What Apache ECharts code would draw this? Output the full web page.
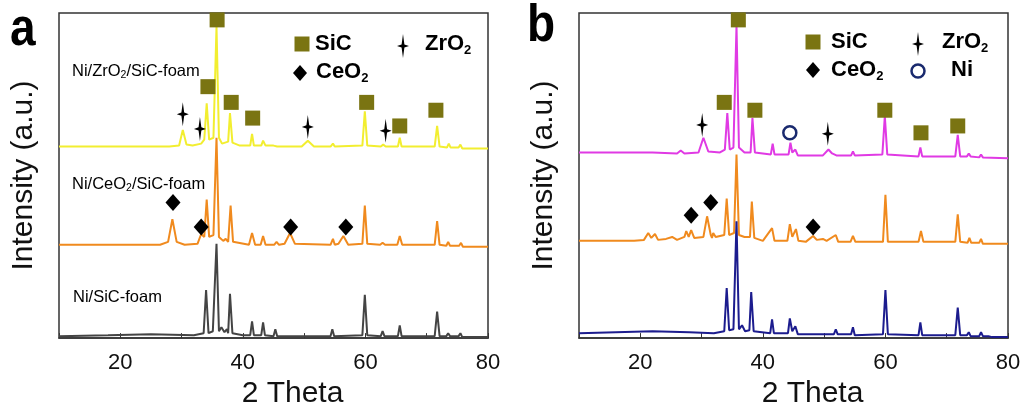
<!DOCTYPE html>
<html>
<head>
<meta charset="utf-8">
<script src="https://cdn.jsdelivr.net/npm/echarts@6/dist/echarts.min.js"></script>
<style>
  html, body { margin: 0; padding: 0; background: #fff; }
  #main { width: 1026px; height: 414px; }
</style>
</head>
<body>
<div id="main"></div>
<script>
// x 轴刻度 (2 Theta)
const xTickLabels = [20, 40, 60, 80];

// 图 a 的三条曲线: [2θ, 强度(a.u., 已含堆叠偏移)]
const aZrSic = [[10,196],[28,196],[29.6,197],[30.2,213],[30.8,198],[31.8,197],[33.2,199],[33.7,203],[34.1,240],[34.5,203],[35.2,205],[35.7,318],[36.1,205],[36.6,199],[37.6,201],[37.9,230],[38.3,200],[39.5,197],[41.2,197],[41.5,209],[41.8,197],[43.0,197],[43.3,202],[43.7,197],[45,197],[45.3,199],[45.6,196],[49.6,196],[50.6,202],[51.6,196],[54.3,196],[54.7,199],[55.0,196],[59.5,197],[59.9,232],[60.3,197],[62.5,196],[62.9,198],[63.3,196],[65.3,196],[65.6,205],[65.9,196],[71.3,196],[71.7,217],[72.1,196],[73.3,195],[73.6,199],[73.9,195],[75.2,195],[75.5,198],[75.8,194],[80,194]];
const aCeSic = [[10,96],[26.5,96],[27.8,99],[28.5,122],[29.2,99],[30.5,96],[32.6,97],[33.2,107],[33.7,104],[34.1,142],[34.5,104],[35.2,106],[35.7,205],[36.1,104],[36.8,100],[37.2,102],[37.6,99],[38.0,136],[38.4,99],[41.0,96],[41.5,108],[42.0,96],[42.9,96],[43.3,105],[43.7,96],[45.1,96],[45.5,99],[45.9,96],[46.8,97],[47.7,108],[48.5,97],[54.3,96],[54.7,102],[55.0,96],[55.6,97],[56.4,105],[57.2,96],[59.5,97],[59.9,136],[60.3,97],[62.4,96],[62.8,98],[63.2,96],[65.2,96],[65.6,105],[66,96],[71.3,96],[71.7,120],[72.1,96],[73.2,95],[73.5,99],[73.8,95],[75.3,95],[75.6,98],[75.9,94],[80,94]];
const aSic = [[10,3],[18,4],[25,5],[32,4],[33.6,6],[34.0,50],[34.4,6],[35.1,8],[35.7,97],[36.1,8],[36.5,12],[37.0,7],[37.4,10],[37.6,6],[37.9,46],[38.3,6],[40,4],[41.2,4],[41.5,18],[41.8,4],[43,4],[43.3,17],[43.6,4],[45,3],[45.3,10],[45.6,3],[54.3,3],[54.6,10],[54.9,3],[59.5,4],[59.9,45],[60.3,4],[62.5,3],[62.8,8],[63.1,3],[65.3,3],[65.6,14],[65.9,3],[71.3,3],[71.7,28],[72.1,3],[73.2,3],[73.5,6],[73.8,3],[75.2,3],[75.5,6],[75.8,2],[80,2]];

// 图 b 的三条曲线
const bZrSic = [[10,190],[22,190],[26,189],[26.6,192],[27.2,189],[29.5,190],[30.3,205],[31.1,191],[33.0,190],[33.8,193],[34.2,230],[34.6,193],[35.2,195],[35.7,319],[36.1,195],[37,190],[38.0,190],[38.3,225],[38.7,190],[41.3,188],[41.6,199],[41.9,188],[44.2,188],[44.5,200],[44.8,190],[45.3,193],[45.7,187],[49.8,187],[50.7,193],[51.3,189],[51.6,191],[52,187],[54.4,187],[54.7,191],[55,187],[59.5,188],[59.9,227],[60.3,188],[65.4,186],[65.7,195],[66.0,186],[71.4,186],[71.8,208],[72.2,186],[73.3,186],[73.6,189],[73.9,186],[75.3,185],[75.6,188],[75.9,185],[80,184]];
const bCeSic = [[10,100],[19,100],[20.6,101],[21.3,108],[21.8,103],[22.4,107],[22.9,101],[24.2,102],[25.2,104],[26,101],[27.2,104],[27.5,110],[27.9,104],[28.3,111],[28.8,103],[30.3,104],[30.9,125],[31.5,106],[31.7,103],[31.9,108],[32.3,104],[33.7,106],[34.1,143],[34.5,106],[35.3,108],[35.7,188],[36.1,106],[37,104],[37.9,104],[38.2,140],[38.6,103],[40,100],[41.5,113],[41.9,100],[44,100],[44.4,117],[44.8,104],[45.4,112],[45.8,100],[47,99],[47.4,101],[48.2,105],[48.8,101],[49.8,102],[50.4,100],[51.9,106],[52.3,99],[54.3,99],[54.7,105],[55.1,99],[59.6,99],[60.0,147],[60.4,99],[65.4,99],[65.8,110],[66.2,99],[71.4,99],[71.8,127],[72.2,99],[73.4,98],[73.7,103],[74,98],[75.3,98],[75.6,102],[75.9,97],[77.8,97],[78.1,99],[78.4,97],[80,97]];
const bSic = [[10,6],[16,7],[22,8],[28,7],[32,6],[33.7,8],[34.1,52],[34.5,9],[35.2,10],[35.7,120],[36.1,10],[36.6,14],[37.1,8],[37.8,9],[38.1,48],[38.5,8],[41.2,6],[41.5,20],[41.8,6],[44.1,6],[44.4,21],[44.8,8],[45.3,13],[45.7,5],[51.6,5],[51.9,10],[52.2,5],[54.4,5],[54.7,12],[55,4],[59.6,5],[60,50],[60.4,5],[65.4,4],[65.7,17],[66,4],[71.4,4],[71.8,32],[72.2,4],[73.3,4],[73.6,7],[73.9,3],[75.3,3],[75.6,7],[75.9,3],[76.8,3],[77.1,5],[77.4,2],[80,2]];

// 物相标记位置
const aSicMarks = [[35.8,325],[34.3,257],[38.1,241],[41.6,225],[60.2,241],[65.6,217],[71.5,233]];
const aZrMarks = [[30.2,229],[33.0,214],[50.6,216],[63.3,212]];
const aCeMarks = [[28.6,139],[33.2,114],[47.8,114],[56.8,114]];
const bSicMarks = [[36.0,325],[33.7,241],[38.7,233],[59.9,233],[65.8,210],[71.8,217]];
const bZrMarks = [[30.1,218],[50.6,209]];
const bCeMarks = [[28.3,126],[31.5,139],[48.2,114]];
const bNiMarks = [[44.4,210]];

const OLIVE = '#7a7412';
const STAR = 'path://M0,-12 L1.4,-1.6 L6,0 L1.4,1.6 L0,12 L-1.4,1.6 L-6,0 L-1.4,-1.6 Z';

const chart = echarts.init(document.getElementById('main'));

function xAxisOf(gi) {
  return {
    type: 'value', gridIndex: gi, min: 10, max: 80, interval: 10,
    name: '2 Theta', nameLocation: 'middle', nameGap: 38,
    nameTextStyle: { fontSize: 30, color: '#111', fontFamily: 'Liberation Sans', padding: [0, 0, 0, 38] },
    axisLine: { show: true, lineStyle: { color: '#333', width: 1.5 } },
    axisTick: { show: true, inside: true, length: 5, lineStyle: { color: '#333' } },
    axisLabel: {
      fontSize: 22, color: '#111', fontFamily: 'Liberation Sans', margin: 14,
      formatter: v => (xTickLabels.indexOf(v) >= 0 ? String(v) : '')
    },
    splitLine: { show: false }
  };
}
function yAxisOf(gi) {
  return {
    type: 'value', gridIndex: gi, min: 1, max: 332,
    name: 'Intensity (a.u.)', nameLocation: 'middle', nameGap: 20, nameRotate: 90,
    nameTextStyle: { fontSize: 30, color: '#111', fontFamily: 'Liberation Sans' },
    axisLine: { show: false }, axisTick: { show: false }, axisLabel: { show: false },
    splitLine: { show: false }
  };
}
function curve(data, color, gi) {
  return {
    type: 'line', xAxisIndex: gi, yAxisIndex: gi, data: data,
    showSymbol: false, symbol: 'none', animation: false,
    lineStyle: { color: color, width: 2 }, z: 2
  };
}
function marks(data, gi, symbol, size, style) {
  return {
    type: 'scatter', xAxisIndex: gi, yAxisIndex: gi, data: data,
    symbol: symbol, symbolSize: size, animation: false,
    itemStyle: Object.assign({ opacity: 1 }, style), z: 5, silent: true
  };
}

const subRich = {
  n: { fontSize: 16.5, color: '#222', fontFamily: 'Liberation Sans', lineHeight: 20 },
  s: { fontSize: 10.5, color: '#222', fontFamily: 'Liberation Sans', lineHeight: 10, verticalAlign: 'bottom' },
  b: { fontSize: 22, color: '#111', fontWeight: 'bold', fontFamily: 'Liberation Sans', lineHeight: 26 },
  bs: { fontSize: 13, color: '#111', fontWeight: 'bold', fontFamily: 'Liberation Sans', lineHeight: 13, verticalAlign: 'bottom' }
};
function label(x, y, text) {
  return { type: 'text', x: x, y: y, style: { text: text, rich: subRich, verticalAlign: 'middle' }, z: 10 };
}
function star(cx, cy) {
  return { type: 'polygon', shape: { points: [[cx, cy - 12], [cx + 1.4, cy - 1.6], [cx + 6, cy], [cx + 1.4, cy + 1.6], [cx, cy + 12], [cx - 1.4, cy + 1.6], [cx - 6, cy], [cx - 1.4, cy - 1.6]] }, style: { fill: '#000' }, z: 10 };
}
function diamond(cx, cy) {
  return { type: 'polygon', shape: { points: [[cx, cy - 8], [cx + 7, cy], [cx, cy + 8], [cx - 7, cy]] }, style: { fill: '#000' }, z: 10 };
}
function square(cx, cy) {
  return { type: 'rect', shape: { x: cx - 7.5, y: cy - 7.5, width: 15, height: 15 }, style: { fill: OLIVE }, z: 10 };
}

const option = {
  backgroundColor: '#fff',
  animation: false,
  grid: [
    { left: 59, top: 13, width: 429, height: 331, show: true, borderColor: '#333', borderWidth: 1.5, backgroundColor: 'transparent' },
    { left: 579, top: 13, width: 429, height: 331, show: true, borderColor: '#333', borderWidth: 1.5, backgroundColor: 'transparent' }
  ],
  xAxis: [xAxisOf(0), xAxisOf(1)],
  yAxis: [yAxisOf(0), yAxisOf(1)],
  series: [
    curve(aSic, '#444444', 0),
    curve(aCeSic, '#f08a1e', 0),
    curve(aZrSic, '#f2ee30', 0),
    curve(bZrSic, '#e03ae4', 1),
    curve(bCeSic, '#f08a1e', 1),
    curve(bSic, '#1c1c8e', 1),
    marks(aSicMarks, 0, 'rect', 15, { color: OLIVE }),
    marks(aZrMarks, 0, STAR, [12, 24], { color: '#000' }),
    marks(aCeMarks, 0, 'diamond', [15, 17], { color: '#000' }),
    marks(bSicMarks, 1, 'rect', 15, { color: OLIVE }),
    marks(bZrMarks, 1, STAR, [12, 24], { color: '#000' }),
    marks(bCeMarks, 1, 'diamond', [15, 17], { color: '#000' }),
    marks(bNiMarks, 1, 'circle', 13, { color: '#fff', borderColor: '#1a2a6e', borderWidth: 2.5 })
  ],
  graphic: [
    { type: 'text', x: 10, y: 5, style: { text: 'a', fontSize: 46, fontWeight: 'bold', fill: '#000', fontFamily: 'Liberation Sans' }, scaleY: 1.12, z: 10 },
    { type: 'text', x: 527, y: 1, style: { text: 'b', fontSize: 46, fontWeight: 'bold', fill: '#000', fontFamily: 'Liberation Sans' }, scaleY: 1.12, z: 10 },
    label(72, 71, '{n|Ni/ZrO}{s|2}{n|/SiC-foam}'),
    label(72, 184, '{n|Ni/CeO}{s|2}{n|/SiC-foam}'),
    label(73, 297, '{n|Ni/SiC-foam}'),
    // 图 a 图例
    square(302, 44), label(315, 44, '{b|SiC}'),
    star(403, 46), label(425, 44, '{b|ZrO}{bs|2}'),
    diamond(300, 73), label(316, 72, '{b|CeO}{bs|2}'),
    // 图 b 图例
    square(813, 42), label(831, 42, '{b|SiC}'),
    star(918, 44), label(942, 42, '{b|ZrO}{bs|2}'),
    diamond(813, 70), label(831, 70, '{b|CeO}{bs|2}'),
    { type: 'circle', shape: { cx: 918, cy: 71, r: 6.5 }, style: { fill: '#fff', stroke: '#1a2a6e', lineWidth: 2.5 }, z: 10 },
    label(951, 70, '{b|Ni}')
  ]
};
chart.setOption(option);
</script>
</body>
</html>
